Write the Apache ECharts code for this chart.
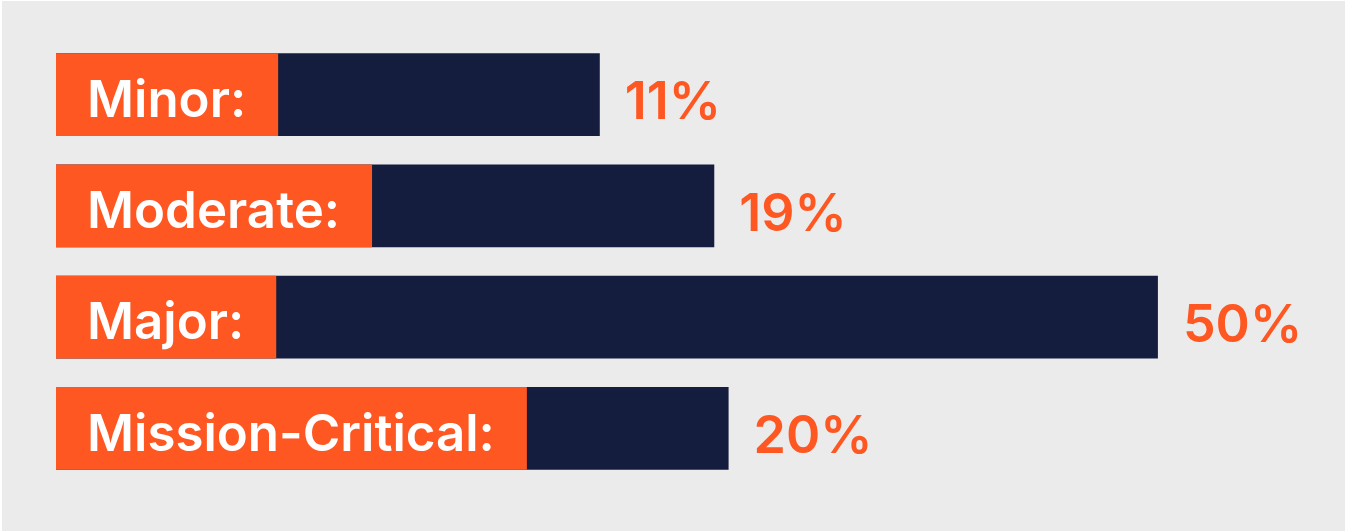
<!DOCTYPE html>
<html>
<head>
<meta charset="utf-8">
<script src="https://cdn.jsdelivr.net/npm/echarts@6/dist/echarts.min.js"></script>
<style>
  html, body { margin: 0; padding: 0; background: #ffffff; }
  #chart { position: absolute; left: 2px; top: 1px; width: 1343px; height: 530px; }
</style>
</head>
<body>
<div id="chart"></div>
<script>
// Severity levels and their share of incidents (%)
const categories = ['Minor:', 'Moderate:', 'Major:', 'Mission-Critical:'];
const shares = [11, 19, 50, 20];
const valueSuffix = '%';

const ORANGE = '#ff5722';
const NAVY = '#141d3d';
const FONT = '"Inter", "DejaVu Sans", sans-serif';
const X_MIN = -27;
const X_MAX = 60;

const chart = echarts.init(document.getElementById('chart'), null, { renderer: 'canvas' });

// Each row: a navy bar running from the left edge of the plot to its value,
// an orange tag with the level name over its left end, and the value on the right.
function renderRow(params, api) {
  const val = api.value(0);
  const catIdx = api.value(1);
  const start = api.coord([X_MIN, catIdx]);
  const end = api.coord([val, catIdx]);
  const h = api.size([0, 1])[1] * 0.745;
  const cy = end[1];
  const drop = 14; // extra top padding so the name sits a little low in its tag
  return {
    type: 'group',
    children: [
      {
        type: 'rect',
        shape: { x: start[0], y: cy - h / 2, width: end[0] - start[0], height: h },
        style: { fill: NAVY }
      },
      {
        type: 'text',
        style: {
          x: start[0],
          y: cy - h / 2,
          text: categories[catIdx],
          fill: '#ffffff',
          font: '600 51px ' + FONT,
          verticalAlign: 'top',
          align: 'left',
          lineHeight: h - drop,
          backgroundColor: ORANGE,
          padding: [drop, 32, 0, 31]
        }
      },
      {
        type: 'text',
        style: {
          x: end[0] + 25,
          y: cy + 9,
          text: val + valueSuffix,
          fill: ORANGE,
          font: '600 52px ' + FONT,
          verticalAlign: 'middle',
          align: 'left'
        }
      }
    ]
  };
}

chart.setOption({
  backgroundColor: '#ebebeb',
  animation: false,
  grid: { left: 54, right: 44, top: 38, bottom: 47 },
  xAxis: {
    type: 'value',
    min: X_MIN,
    max: X_MAX,
    show: false,
    splitLine: { show: false }
  },
  yAxis: {
    type: 'category',
    data: categories,
    inverse: true,
    show: false
  },
  series: [{
    type: 'custom',
    renderItem: renderRow,
    encode: { x: 0, y: 1 },
    data: shares.map((v, i) => [v, i]),
    clip: false
  }]
});
</script>
</body>
</html>
